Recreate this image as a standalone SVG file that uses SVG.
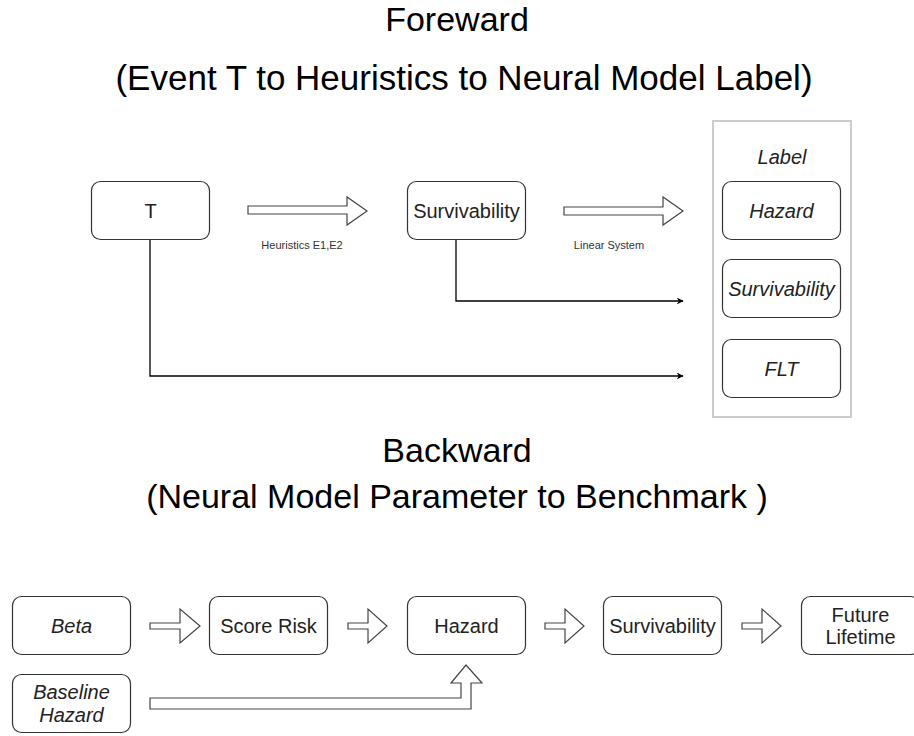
<svg xmlns="http://www.w3.org/2000/svg" width="914" height="736" viewBox="0 0 914 736">
<defs>
<style>
text{font-family:"Liberation Sans",Arial,sans-serif;fill:#000;text-anchor:middle}
.title{font-size:34px}
.node rect{fill:#fff;stroke:#333;stroke-width:1.2}
.nt{font-size:20px;fill:#222}
.it{font-style:italic}
.sm{font-size:11px;fill:#333}
.block{fill:#fff;stroke:#444;stroke-width:1.2;stroke-linejoin:miter}
.line{fill:none;stroke:#000;stroke-width:1.3}
</style>
<marker id="ah" viewBox="0 0 10 10" refX="9" refY="5" markerWidth="7" markerHeight="7" markerUnits="userSpaceOnUse" orient="auto">
<path d="M0,0 L10,5 L0,10 L3,5 Z" fill="#000"/>
</marker>
</defs>
<rect width="914" height="736" fill="#fff"/>

<text class="title" x="457" y="31">Foreward</text>
<text class="title" x="464" y="90" style="font-size:35px">(Event T to Heuristics to Neural Model Label)</text>
<text class="title" x="457" y="462">Backward</text>
<text class="title" x="457" y="508">(Neural Model Parameter to Benchmark )</text>

<g id="label-container">
<rect x="713" y="121" width="138" height="296" fill="#fff" stroke="#ccc" stroke-width="2"/>
<text class="nt it" x="782" y="164">Label</text>
</g>

<g id="connectors">
<path class="block" d="M248,206 H347 V197 L367,211 L347,225 V214 H248 Z"/>
<text class="sm" x="302" y="249">Heuristics E1,E2</text>
<path class="block" d="M564,207 H663 V197 L683,211 L663,225 V215 H564 Z"/>
<text class="sm" x="609" y="249">Linear System</text>
<path class="line" d="M456,240 V301 H683" marker-end="url(#ah)"/>
<path class="line" d="M150,240 V376 H683" marker-end="url(#ah)"/>
<path class="block" d="M150,623 H180 V609 L200,626 L180,643 V629 H150 Z"/>
<path class="block" d="M348,623 H368 V609 L387,626 L368,643 V629 H348 Z"/>
<path class="block" d="M545,623 H565 V609 L584,626 L565,643 V629 H545 Z"/>
<path class="block" d="M742,623 H762 V609 L781,626 L762,643 V629 H742 Z"/>
<path class="block" d="M150,698 H461 V683 H451 L466,665 L482,683 H471 V709 H150 Z"/>
</g>

<g id="T" class="node"><rect x="91.5" y="181.5" width="118" height="58" rx="9"/><text class="nt" x="150.5" y="218">T</text></g>
<g id="survivability-top" class="node"><rect x="407.5" y="181.5" width="118" height="58" rx="9"/><text class="nt" x="466.5" y="218">Survivability</text></g>
<g id="label-hazard" class="node"><rect x="722.5" y="181.5" width="118" height="58" rx="9"/><text class="nt it" x="781.5" y="218">Hazard</text></g>
<g id="label-survivability" class="node"><rect x="722.5" y="259.5" width="118" height="58" rx="9"/><text class="nt it" x="781.5" y="296">Survivability</text></g>
<g id="label-flt" class="node"><rect x="722.5" y="339.5" width="118" height="58" rx="9"/><text class="nt it" x="781.5" y="376">FLT</text></g>

<g id="beta" class="node"><rect x="12.5" y="596.5" width="118" height="58" rx="9"/><text class="nt it" x="71.5" y="633">Beta</text></g>
<g id="score-risk" class="node"><rect x="209.5" y="596.5" width="118" height="58" rx="9"/><text class="nt" x="268.5" y="633">Score Risk</text></g>
<g id="hazard" class="node"><rect x="407.5" y="596.5" width="118" height="58" rx="9"/><text class="nt" x="466.5" y="633">Hazard</text></g>
<g id="survivability-bottom" class="node"><rect x="603.5" y="596.5" width="118" height="58" rx="9"/><text class="nt" x="662.5" y="633">Survivability</text></g>
<g id="future-lifetime" class="node"><rect x="801.5" y="596.5" width="118" height="58" rx="9"/><text class="nt" x="860.5" y="622">Future</text><text class="nt" x="860.5" y="644">Lifetime</text></g>
<g id="baseline-hazard" class="node"><rect x="12.5" y="674.5" width="118" height="58" rx="9"/><text class="nt it" x="71.5" y="699">Baseline</text><text class="nt it" x="71.5" y="722">Hazard</text></g>
</svg>
